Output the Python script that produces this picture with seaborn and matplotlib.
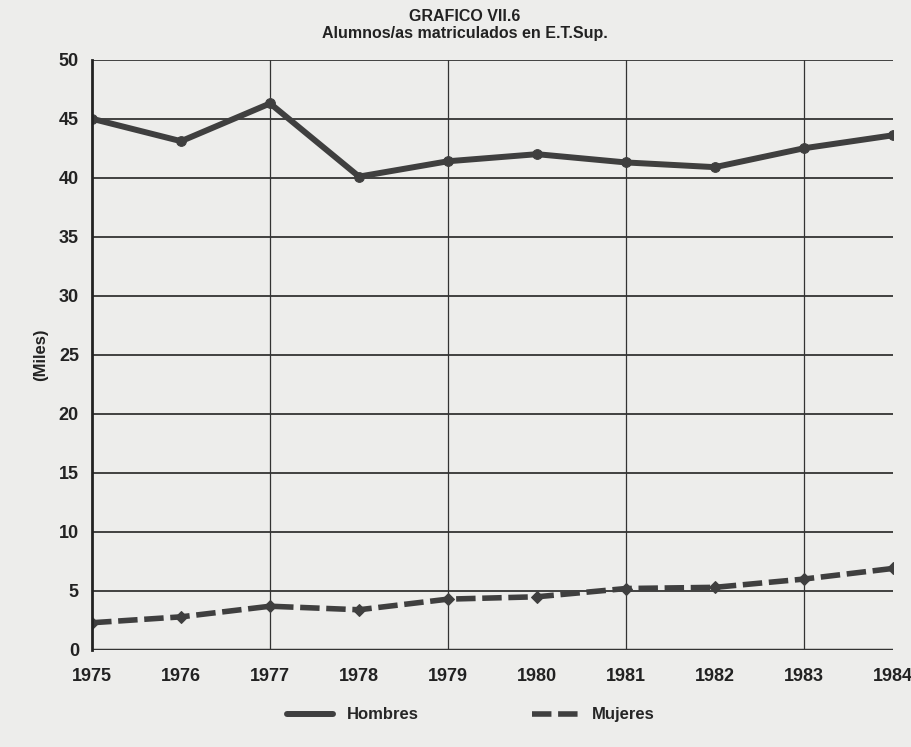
import pandas as pd
import matplotlib.pyplot as plt
import seaborn as sns
from matplotlib.lines import Line2D

years = [1975, 1976, 1977, 1978, 1979, 1980, 1981, 1982, 1983, 1984]
hombres = [45.0, 43.1, 46.3, 40.1, 41.4, 42.0, 41.3, 40.9, 42.5, 43.6]
mujeres = [2.3, 2.8, 3.7, 3.4, 4.3, 4.5, 5.2, 5.3, 6.0, 6.9]

df = pd.DataFrame({'Año': years, 'Hombres': hombres, 'Mujeres': mujeres})

sns.set_style('white')
plt.rcParams['font.family'] = ['Liberation Sans Narrow', 'Liberation Sans', 'DejaVu Sans']

bg = '#ededeb'
ink = '#3f3f3f'

fig = plt.figure(figsize=(9.12, 7.47), dpi=100, facecolor=bg)
ax = fig.add_axes([0.101, 0.130, 0.878, 0.790])
ax.set_facecolor(bg)

sns.lineplot(data=df, x='Año', y='Hombres', ax=ax, color=ink, linewidth=4.3,
             marker='o', markersize=7, markeredgecolor=ink)
sns.lineplot(data=df, x='Año', y='Mujeres', ax=ax, color=ink, linewidth=4,
             marker='D', markersize=6, markeredgecolor=ink)
ax.lines[-1].set_dashes([3.5, 1.2])

ax.set_xlim(1975, 1984)
ax.set_ylim(0, 50)
ax.set_yticks(range(0, 51, 5))
ax.set_xticks(years)
ax.set_xticklabels([str(y) for y in years], fontsize=13, fontweight='bold', color='#222222')
ax.tick_params(axis='y', labelsize=13, length=6, width=1.5, color='#222222', labelcolor='#222222')
ax.tick_params(axis='x', length=5, width=1.5, color='#222222', pad=8)
for lab in ax.get_yticklabels():
    lab.set_fontweight('bold')

# horizontal grid every 5, vertical grid on odd years
for v in range(5, 51, 5):
    ax.axhline(v, color='#333333', linewidth=1.3, zorder=0)
for yr in [1977, 1979, 1981, 1983]:
    ax.axvline(yr, color='#333333', linewidth=0.9, zorder=0)
ax.axhline(0, color='#333333', linewidth=2.5, zorder=0)

for s in ['top', 'right']:
    ax.spines[s].set_visible(False)
ax.spines['left'].set_color('#222222')
ax.spines['left'].set_linewidth(2)
ax.spines['bottom'].set_visible(False)

ax.set_xlabel('')
ax.set_ylabel('(Miles)', fontsize=12, fontweight='bold', color='#222222', labelpad=8)

fig.text(0.51, 0.978, 'GRAFICO VII.6', ha='center', va='center', fontsize=11.5,
         fontweight='bold', family='Liberation Sans', color='#222222')
fig.text(0.51, 0.955, 'Alumnos/as matriculados en E.T.Sup.', ha='center', va='center',
         fontsize=11.5, fontweight='bold', family='Liberation Sans', color='#222222')

handles = [Line2D([], [], color=ink, linewidth=4.3),
           Line2D([], [], color=ink, linewidth=4, dashes=[3.5, 1.2])]
fig.legend(handles, ['Hombres', 'Mujeres'], loc='center', bbox_to_anchor=(0.516, 0.043),
           ncol=2, frameon=False, handlelength=2.8, columnspacing=6.8,
           prop={'weight': 'bold', 'size': 12, 'family': 'Liberation Sans'})

fig.savefig('out.png', dpi=100, facecolor=bg)
